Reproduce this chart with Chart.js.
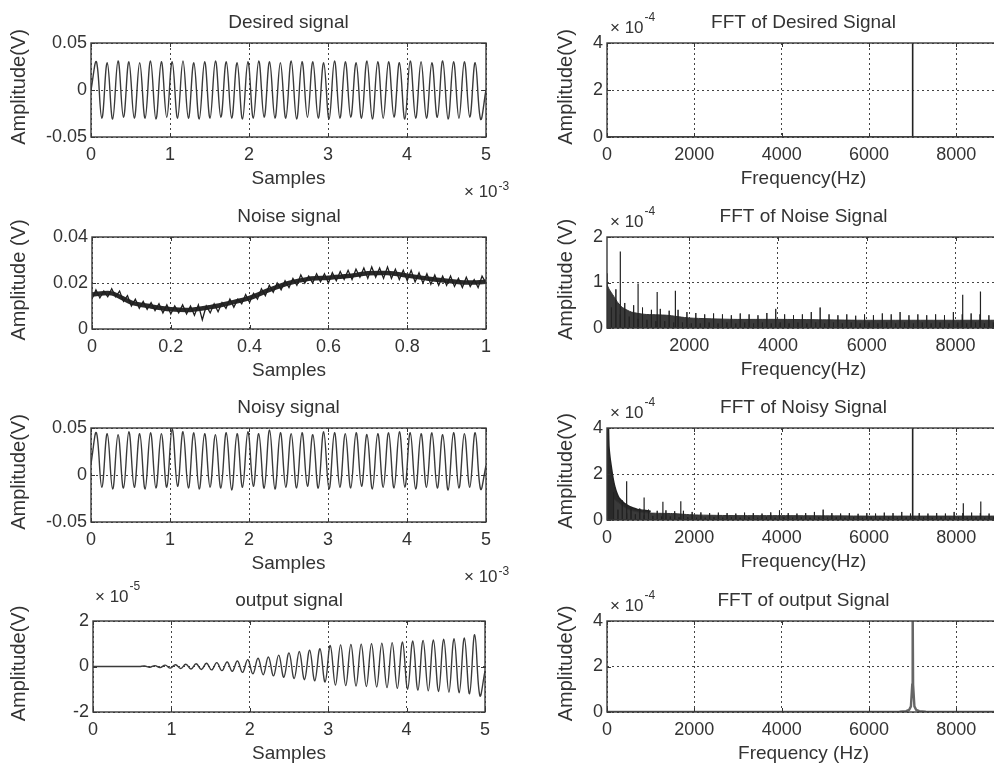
<!DOCTYPE html>
<html><head><meta charset="utf-8">
<script src="https://cdn.jsdelivr.net/npm/chart.js"></script>
<style>
html,body{margin:0;padding:0;background:#fff;overflow:hidden;width:994px;height:775px;position:relative;}
canvas{position:absolute;}
</style></head><body>
<script>
// ---------------- DATA ----------------
// Time axis (samples), tick values and labels
const sampleTicks = [0, 1000, 2000, 3000, 4000, 5000];
const sampleTickLabels = ['0', '1', '2', '3', '4', '5'];
const noiseXTicks = [0, 0.2, 0.4, 0.6, 0.8, 1];
const noiseXTickLabels = ['0', '0.2', '0.4', '0.6', '0.8', '1'];
const freqTicks = [0, 2000, 4000, 6000, 8000];
const freqTickLabels = ['0', '2000', '4000', '6000', '8000'];
const freqTicksNoZero = [2000, 4000, 6000, 8000];
const freqTickLabelsNoZero = ['2000', '4000', '6000', '8000'];
const ampTicks05 = [-0.05, 0, 0.05];
const ampTickLabels05 = ['-0.05', '0', '0.05'];
const ampTicks04 = [0, 0.02, 0.04];
const ampTickLabels04 = ['0', '0.02', '0.04'];
const outTicks = [-2, 0, 2];
const outTickLabels = ['-2', '0', '2'];
const fftTicks4 = [0, 2, 4];
const fftTickLabels4 = ['0', '2', '4'];
const fftTicks2 = [0, 1, 2];
const fftTickLabels2 = ['0', '1', '2'];

// Desired signal: successive extremes (V), evenly spaced over 0..5000 samples
const desiredSignal = [0,
 0.030,-0.030, 0.029,-0.031, 0.031,-0.029, 0.030,-0.030, 0.029,-0.030, 0.031,-0.031,
 0.030,-0.029, 0.030,-0.030, 0.031,-0.030, 0.029,-0.031, 0.030,-0.030, 0.031,-0.029,
 0.030,-0.030, 0.029,-0.031, 0.030,-0.030, 0.031,-0.029, 0.030,-0.030, 0.029,-0.030,
 0.031,-0.031, 0.030,-0.029, 0.030,-0.030, 0.029,-0.031, 0.031,-0.030, 0.030,-0.029,
 0.029,-0.030, 0.031,-0.031, 0.030,-0.030, 0.030,-0.029, 0.029,-0.031, 0.031,-0.030,
 0.030,-0.030, 0.029,-0.029, 0.031,-0.031, 0.030,-0.030, 0.030,-0.029, 0.029,-0.031,
 0];

// Noise signal (V), x from 0 to 1 in steps of 0.01
const noiseSignal = [
 0.0130,0.0170,0.0135,0.0165,0.0140,0.0175,0.0140,0.0165,0.0120,0.0145,
 0.0100,0.0130,0.0090,0.0120,0.0085,0.0115,0.0080,0.0110,0.0070,0.0105,
 0.0065,0.0100,0.0070,0.0105,0.0065,0.0100,0.0060,0.0105,0.0040,0.0100,
 0.0070,0.0110,0.0075,0.0115,0.0090,0.0130,0.0095,0.0130,0.0110,0.0150,
 0.0115,0.0155,0.0130,0.0175,0.0145,0.0190,0.0160,0.0200,0.0170,0.0210,
 0.0180,0.0220,0.0190,0.0235,0.0200,0.0230,0.0200,0.0240,0.0205,0.0240,
 0.0200,0.0245,0.0210,0.0250,0.0215,0.0255,0.0215,0.0260,0.0225,0.0265,
 0.0220,0.0270,0.0225,0.0265,0.0220,0.0270,0.0220,0.0260,0.0215,0.0255,
 0.0210,0.0255,0.0205,0.0245,0.0200,0.0240,0.0195,0.0235,0.0190,0.0230,
 0.0190,0.0230,0.0185,0.0220,0.0180,0.0225,0.0185,0.0215,0.0180,0.0230,
 0.0200];
// Noise signal centre trend (V), x from 0 to 1 in steps of 0.05
const noiseTrend = [0.0150,0.0155,0.0115,0.0098,0.0086,0.0083,0.0095,0.0113,0.0135,0.0170,
 0.0200,0.0218,0.0223,0.0230,0.0242,0.0243,0.0232,0.0220,0.0210,0.0202,0.0205];

// Noisy signal: successive extremes (V), evenly spaced over 0..5000 samples
const noisySignal = [0.012,
 0.045,-0.013, 0.044,-0.015, 0.043,-0.014, 0.046,-0.013, 0.044,-0.015, 0.045,-0.014,
 0.044,-0.013, 0.049,-0.012, 0.046,-0.014, 0.045,-0.015, 0.044,-0.013, 0.043,-0.014,
 0.045,-0.016, 0.044,-0.013, 0.046,-0.012, 0.044,-0.014, 0.048,-0.015, 0.045,-0.013,
 0.044,-0.014, 0.045,-0.012, 0.043,-0.014, 0.046,-0.015, 0.045,-0.013, 0.044,-0.014,
 0.045,-0.012, 0.043,-0.015, 0.044,-0.013, 0.045,-0.014, 0.046,-0.013, 0.045,-0.015,
 0.044,-0.013, 0.045,-0.014, 0.043,-0.016, 0.045,-0.014, 0.044,-0.013, 0.045,-0.015,
 0.010];

// Output signal: successive extremes (x1e-5 V), evenly spaced over 0..5000 samples
const outputSignal = [0,0,0,0,0,0,0,0,0,0,
 0.02,-0.03,0.04,-0.05,0.06,-0.07,0.08,-0.09,0.10,-0.11,
 0.12,-0.13,0.14,-0.15,0.17,-0.18,0.20,-0.21,0.24,-0.26,
 0.30,-0.32,0.36,-0.36,0.42,-0.41,0.50,-0.47,0.60,-0.53,
 0.66,-0.58,0.72,-0.63,0.78,-0.68,0.92,-0.82,0.95,-0.84,
 0.97,-0.86,0.98,-0.88,1.00,-0.90,1.02,-0.93,1.05,-0.96,
 1.08,-1.00,1.12,-1.04,1.15,-1.07,1.17,-1.10,1.20,-1.13,
 1.22,-1.16,1.25,-1.20,1.40,-1.28,-0.20];

// FFT of desired signal (x1e-4 V)
const desiredFftFreq = [0, 7000, 7000, 7000, 9000];
const desiredFftAmp  = [0, 0, 4.6, 0, 0];

// FFT of noise (x1e-4 V): bins every 100 Hz from 150 Hz
const noiseFftAmp = [
 1.20,0.45,0.85,0.30,0.55,0.25,0.50,0.20,0.45,0.18,
 0.40,0.15,0.42,0.15,0.38,0.12,0.40,0.12,0.35,0.10,
 0.33,0.10,0.30,0.12,0.32,0.10,0.30,0.12,0.28,0.10,
 0.32,0.12,0.30,0.10,0.28,0.12,0.33,0.10,0.42,0.12,
 0.30,0.10,0.28,0.12,0.30,0.10,0.35,0.12,0.45,0.10,
 0.30,0.12,0.28,0.10,0.30,0.12,0.27,0.10,0.30,0.12,
 0.28,0.10,0.32,0.12,0.30,0.10,0.35,0.12,0.28,0.10,
 0.30,0.12,0.28,0.10,0.30,0.12,0.28,0.10,0.35,0.12,
 0.30,0.10,0.32,0.12,0.30,0.10,0.28,0.12,0.25];
// dense floor of the noise spectrum
const noiseFloorFreq = [150,200,300,400,500,700,1000,1500,2000,3000,4000,5000,6000,7000,8000,9000];
const noiseFloorAmp  = [0.95,0.85,0.70,0.55,0.45,0.35,0.30,0.28,0.22,0.19,0.19,0.18,0.17,0.17,0.17,0.17];
// isolated spectral lines of the noise
const noiseSpikeFreq = [450, 850, 1280, 1690, 8160, 8560];
const noiseSpikeAmp  = [1.68, 0.98, 0.79, 0.82, 0.73, 0.80];
// low-frequency (DC) part of the noisy signal spectrum
const noisyLowFreq = [0, 25, 45, 70, 100, 140, 180, 230, 280, 330, 400, 500, 600, 700, 850, 1000];
const noisyLowAmp  = [4.6, 4.6, 3.2, 2.7, 2.3, 1.8, 1.45, 1.15, 0.95, 0.85, 0.72, 0.60, 0.52, 0.46, 0.42, 0.38];

// FFT of output (x1e-4 V)
const outputFftFreq = [0, 6700, 6850, 6920, 6960, 6990, 7000, 7010, 7040, 7080, 7150, 7300, 9000];
const outputFftAmp  = [0, 0.01, 0.04, 0.10, 0.25, 1.2, 4.6, 1.2, 0.25, 0.10, 0.04, 0.01, 0];

// ---------------- DRAWING ----------------
const FONT = '"Liberation Sans", Arial, Helvetica, sans-serif';
const TXT = '#333';

function pts(xs, ys) { return ys.map((y, i) => ({x: xs[i], y: y})); }
function evenX(n, span) { const a = []; for (let i = 0; i < n; i++) a.push(i * span / (n - 1)); return a; }
function binX(n, start, step) { const a = []; for (let i = 0; i < n; i++) a.push(start + i * step); return a; }
function spikes(fs, as) { const d = []; fs.forEach((f, i) => { d.push({x:f,y:0},{x:f,y:as[i]},{x:f,y:0}); }); return d; }

const deco = {
  id: 'deco',
  afterDatasetsDraw(chart, args, o) {
    const {ctx, chartArea: a} = chart;
    const sx = chart.scales.x, sy = chart.scales.y;
    ctx.save();
    ctx.strokeStyle = '#333'; ctx.lineWidth = 1;
    ctx.beginPath();
    sx.ticks.forEach(t => { const p = Math.round(sx.getPixelForValue(t.value)) + 0.5;
      ctx.moveTo(p, a.bottom); ctx.lineTo(p, a.bottom - 4); ctx.moveTo(p, a.top); ctx.lineTo(p, a.top + 4); });
    sy.ticks.forEach(t => { const p = Math.round(sy.getPixelForValue(t.value)) + 0.5;
      ctx.moveTo(a.left, p); ctx.lineTo(a.left + 4, p); ctx.moveTo(a.right, p); ctx.lineTo(a.right - 4, p); });
    ctx.stroke();
    ctx.lineWidth = 1.4; ctx.strokeStyle = '#3a3a3a';
    ctx.strokeRect(a.left, a.top, a.right - a.left, a.bottom - a.top);
    ctx.restore();
  },
  afterDraw(chart, args, o) {
    const {ctx, chartArea: a} = chart;
    ctx.save();
    ctx.fillStyle = TXT;
    const cx = (a.left + a.right) / 2;
    ctx.font = '19px ' + FONT;
    ctx.textAlign = 'center'; ctx.textBaseline = 'alphabetic';
    ctx.fillText(o.title, cx, a.top - 15);
    ctx.textBaseline = 'middle';
    ctx.fillText(o.xTitle, cx, a.bottom + 42);
    ctx.save();
    ctx.translate(a.left - o.yTitleOff, (a.top + a.bottom) / 2 - 3);
    ctx.rotate(-Math.PI / 2);
    ctx.font = '20px ' + FONT;
    ctx.fillText(o.yTitle, 0, 0);
    ctx.restore();
    if (o.exp) {
      let x, y, ys;
      if (o.exp.where === 'br') { x = a.right - 22; y = a.bottom + 60; ys = y - 7; }
      else if (o.exp.where === 'tl') { x = a.left + 3; y = a.top - 10; ys = y - 12; }
      else { x = a.left + 2; y = a.top - 19; ys = y - 12; }
      ctx.textAlign = 'left'; ctx.textBaseline = 'alphabetic';
      ctx.font = '17px ' + FONT;
      ctx.fillText('\u00d7 10', x, y);
      const w = ctx.measureText('\u00d7 10').width;
      ctx.font = '12px ' + FONT;
      ctx.fillText(o.exp.text, x + w + 1, ys);
    }
    ctx.restore();
  }
};

function panel(box, cfg) {
  const canvasLeft = cfg.canvasLeft;
  const PL = box.l - canvasLeft, PT = 60, PR = 34, PB = 62;
  const W = box.r - box.l + PL + PR, H = box.b - box.t + PT + PB;
  const c = document.createElement('canvas');
  c.width = W; c.height = H;
  c.style.left = canvasLeft + 'px'; c.style.top = (box.t - PT) + 'px';
  c.style.width = W + 'px'; c.style.height = H + 'px';
  document.body.appendChild(c);
  const tickFont = {family: FONT, size: 18};
  new Chart(c, {
    type: 'line',
    data: {datasets: cfg.datasets},
    options: {
      responsive: false, animation: false, devicePixelRatio: 1, events: [],
      layout: {padding: {left: 0, top: PT, right: PR, bottom: 0}},
      plugins: {legend: {display: false}, tooltip: {enabled: false}, title: {display: false}, deco: cfg.deco},
      elements: {point: {radius: 0}},
      scales: {
        x: {type: 'linear', min: cfg.xMin, max: cfg.xMax,
          afterBuildTicks: s => { s.ticks = cfg.xTicks.map(v => ({value: v})); },
          afterFit: s => { s.height = PB; },
          ticks: {callback: (v, i) => cfg.xLabels[i], font: tickFont, color: TXT, padding: 7, maxRotation: 0, autoSkip: false},
          grid: {color: '#444', lineWidth: 1, drawTicks: false},
          border: {display: false, dash: [2, 3]}},
        y: {type: 'linear', min: cfg.yMin, max: cfg.yMax,
          afterBuildTicks: s => { s.ticks = cfg.yTicks.map(v => ({value: v})); },
          afterFit: s => { s.width = PL; },
          ticks: {callback: (v, i) => cfg.yLabels[i], font: tickFont, color: TXT, padding: 4, autoSkip: false},
          grid: {color: '#444', lineWidth: 1, drawTicks: false},
          border: {display: false, dash: [2, 3]}}
      }
    },
    plugins: [deco]
  });
}

function sig(data, color, width, tension, extra) {
  return Object.assign({data: data, borderColor: color, borderWidth: width, tension: tension, fill: false, pointRadius: 0}, extra || {});
}

// Row 1
panel({l: 91, t: 43, r: 486, b: 137}, {
  canvasLeft: 0, xMin: 0, xMax: 5000, xTicks: sampleTicks, xLabels: sampleTickLabels,
  yMin: -0.05, yMax: 0.05, yTicks: ampTicks05, yLabels: ampTickLabels05,
  datasets: [sig(pts(evenX(desiredSignal.length, 5000), desiredSignal), '#3a3a3a', 1.4, 0.4)],
  deco: {title: 'Desired signal', xTitle: 'Samples', yTitle: 'Amplitude(V)', yTitleOff: 72, exp: {text: '-3', where: 'br'}}
});
panel({l: 607, t: 43, r: 1000, b: 137}, {
  canvasLeft: 540, xMin: 0, xMax: 9000, xTicks: freqTicks, xLabels: freqTickLabels,
  yMin: 0, yMax: 4, yTicks: fftTicks4, yLabels: fftTickLabels4,
  datasets: [sig(pts(desiredFftFreq, desiredFftAmp), '#222', 1.6, 0)],
  deco: {title: 'FFT of Desired Signal', xTitle: 'Frequency(Hz)', yTitle: 'Amplitude(V)', yTitleOff: 41, exp: {text: '-4', where: 'tl'}}
});
// Row 2
panel({l: 92, t: 237, r: 486, b: 329}, {
  canvasLeft: 0, xMin: 0, xMax: 1, xTicks: noiseXTicks, xLabels: noiseXTickLabels,
  yMin: 0, yMax: 0.04, yTicks: ampTicks04, yLabels: ampTickLabels04,
  datasets: [
    sig(pts(evenX(noiseSignal.length, 1), noiseSignal), '#1e1e1e', 1.3, 0, {order: 1}),
    sig(pts(evenX(noiseTrend.length, 1), noiseTrend), '#2a2a2a', 4.5, 0.3, {order: 2})
  ],
  deco: {title: 'Noise signal', xTitle: 'Samples', yTitle: 'Amplitude (V)', yTitleOff: 73}
});
const noiseBins = binX(noiseFftAmp.length, 150, 100);
panel({l: 607, t: 237, r: 1000, b: 328}, {
  canvasLeft: 540, xMin: 150, xMax: 9000, xTicks: freqTicksNoZero, xLabels: freqTickLabelsNoZero,
  yMin: 0, yMax: 2, yTicks: fftTicks2, yLabels: fftTickLabels2,
  datasets: [
    sig(spikes(noiseSpikeFreq, noiseSpikeAmp), '#222', 1.2, 0, {order: 1}),
    sig(spikes(noiseBins, noiseFftAmp), '#222', 1, 0, {order: 2}),
    sig(pts(noiseFloorFreq, noiseFloorAmp), '#333', 1, 0.2, {order: 3, fill: 'origin', backgroundColor: '#3a3a3a'})
  ],
  deco: {title: 'FFT of Noise Signal', xTitle: 'Frequency(Hz)', yTitle: 'Amplitude (V)', yTitleOff: 41, exp: {text: '-4', where: 'tl'}}
});
// Row 3
panel({l: 91, t: 428, r: 486, b: 522}, {
  canvasLeft: 0, xMin: 0, xMax: 5000, xTicks: sampleTicks, xLabels: sampleTickLabels,
  yMin: -0.05, yMax: 0.05, yTicks: ampTicks05, yLabels: ampTickLabels05,
  datasets: [sig(pts(evenX(noisySignal.length, 5000), noisySignal), '#3a3a3a', 1.4, 0.4)],
  deco: {title: 'Noisy signal', xTitle: 'Samples', yTitle: 'Amplitude(V)', yTitleOff: 72, exp: {text: '-3', where: 'br'}}
});
panel({l: 607, t: 428, r: 1000, b: 520}, {
  canvasLeft: 540, xMin: 0, xMax: 9000, xTicks: freqTicks, xLabels: freqTickLabels,
  yMin: 0, yMax: 4, yTicks: fftTicks4, yLabels: fftTickLabels4,
  datasets: [
    sig(pts(desiredFftFreq, desiredFftAmp), '#222', 1.6, 0, {order: 0}),
    sig(spikes(noiseSpikeFreq, noiseSpikeAmp), '#222', 1.2, 0, {order: 1}),
    sig(spikes(noiseBins, noiseFftAmp), '#222', 1, 0, {order: 2}),
    sig(pts(noiseFloorFreq, noiseFloorAmp), '#333', 1, 0.2, {order: 3, fill: 'origin', backgroundColor: '#3a3a3a'}),
    sig(pts(noisyLowFreq, noisyLowAmp), '#222', 1.5, 0.2, {order: 4, fill: 'origin', backgroundColor: '#2a2a2a'})
  ],
  deco: {title: 'FFT of Noisy Signal', xTitle: 'Frequency(Hz)', yTitle: 'Amplitude(V)', yTitleOff: 41, exp: {text: '-4', where: 'tl'}}
});
// Row 4
panel({l: 93, t: 621, r: 485, b: 712}, {
  canvasLeft: 0, xMin: 0, xMax: 5000, xTicks: sampleTicks, xLabels: sampleTickLabels,
  yMin: -2, yMax: 2, yTicks: outTicks, yLabels: outTickLabels,
  datasets: [sig(pts(evenX(outputSignal.length, 5000), outputSignal), '#3a3a3a', 1.4, 0.4)],
  deco: {title: 'output signal', xTitle: 'Samples', yTitle: 'Amplitude(V)', yTitleOff: 74, exp: {text: '-5', where: 'tlHigh'}}
});
panel({l: 607, t: 621, r: 1000, b: 712}, {
  canvasLeft: 540, xMin: 0, xMax: 9000, xTicks: freqTicks, xLabels: freqTickLabels,
  yMin: 0, yMax: 4, yTicks: fftTicks4, yLabels: fftTickLabels4,
  datasets: [sig(pts(outputFftFreq, outputFftAmp), '#666', 2.4, 0)],
  deco: {title: 'FFT of output Signal', xTitle: 'Frequency (Hz)', yTitle: 'Amplitude(V)', yTitleOff: 41, exp: {text: '-4', where: 'tl'}}
});
</script>
</body></html>
